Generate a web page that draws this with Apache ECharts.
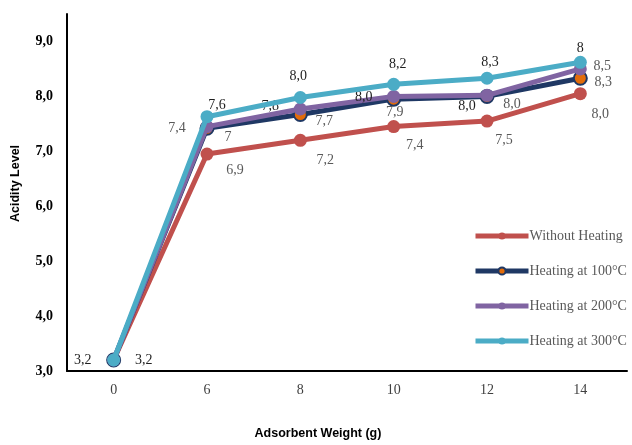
<!DOCTYPE html>
<html>
<head>
<meta charset="utf-8">
<script src="https://cdn.jsdelivr.net/npm/echarts@6/dist/echarts.min.js"></script>
<style>
  html, body { margin: 0; padding: 0; background: #fff; }
  #myChart { width: 632px; height: 445px; }
</style>
</head>
<body>
<div id="myChart"></div>
<script>
// x categories (adsorbent weight, g)
let categories = ['0', '6', '8', '10', '12', '14']

let seriesNames = ['Without Heating', 'Heating at 100°C', 'Heating at 200°C', 'Heating at 300°C']

// values
let withoutHeating = [3.2, 6.95, 7.2, 7.45, 7.55, 8.05]
let heating100 = [3.2, 7.42, 7.67, 7.95, 8.0, 8.33]
let heating200 = [3.2, 7.45, 7.77, 8.0, 8.02, 8.5]
let heating300 = [3.2, 7.63, 7.98, 8.22, 8.33, 8.62]

// labels as printed on the chart
let withoutHeatingLabels = ['', '6,9', '7,2', '7,4', '7,5', '8,0']
let heating100Labels = ['3,2', '7,4', '7,7', '7,9', '8,0', '8,3']
let heating200Labels = ['', '7', '7,8', '8,0', '8,0', '8,5']
let heating300Labels = ['3,2', '7,6', '8,0', '8,2', '8,3', '8']

let yTicks = ['3,0', '4,0', '5,0', '6,0', '7,0', '8,0', '9,0']

let serif = '"Liberation Serif", "Times New Roman", serif'
let dark = '#1e1e1e'
let grey = '#595959'

// label offsets per point (relative to the marker centre)
let labelOffsets = [
    [[0, 0], [28, 16], [25, 20], [21, 19], [17, 19], [20, 21]],
    [[-31, 0], [-30, 0], [24, 7], [1, 13], [-20, 10], [23, 4]],
    [[0, 0], [21, 11], [-30, -3], [-30, 1], [25, 9], [22, -3]],
    [[30, 0], [10, -11], [-2, -21], [4, -20], [3, -16], [0, -14]]
]
let labelColors = [
    [grey, grey, grey, grey, grey, grey],
    [dark, grey, grey, grey, dark, grey],
    [grey, grey, dark, dark, grey, grey],
    [dark, dark, dark, dark, dark, dark]
]

let values = [withoutHeating, heating100, heating200, heating300]
let labels = [withoutHeatingLabels, heating100Labels, heating200Labels, heating300Labels]
let lineColors = ['#c0504d', '#1f3864', '#8064a2', '#4bacc6']
let fillColors = ['#c0504d', '#e36c09', '#8064a2', '#4bacc6']

let series = values.map(function (vals, i) {
    return {
        name: seriesNames[i],
        type: 'line',
        symbol: 'circle',
        symbolSize: 13,
        z: 2 + i,
        lineStyle: { color: lineColors[i], width: 5 },
        itemStyle: {
            color: fillColors[i],
            borderColor: lineColors[i],
            borderWidth: i == 1 ? 2 : 0
        },
        data: vals.map(function (v, j) {
            return {
                value: v,
                label: {
                    show: labels[i][j] !== '',
                    position: 'inside',
                    offset: labelOffsets[i][j],
                    formatter: labels[i][j],
                    color: labelColors[i][j],
                    fontFamily: serif,
                    fontSize: 14
                }
            }
        })
    }
})

let option = {
    animation: false,
    backgroundColor: '#fff',
    grid: { left: 67, right: 5, top: 14, bottom: 69 },
    legend: {
        data: seriesNames,
        orient: 'vertical',
        left: 468,
        top: 224,
        itemWidth: 53,
        itemHeight: 9,
        itemGap: 21,
        lineStyle: { width: 5 },
        textStyle: { fontFamily: serif, fontSize: 14, color: grey, padding: [0, 0, 0, -4] }
    },
    xAxis: {
        type: 'category',
        data: categories,
        boundaryGap: true,
        name: 'Adsorbent Weight (g)',
        nameLocation: 'middle',
        nameGap: 56,
        nameTextStyle: {
            fontFamily: '"Liberation Sans", Arial, sans-serif',
            fontWeight: 'bold',
            fontSize: 12.5,
            color: '#000',
            padding: [0, 58, 0, 0]
        },
        axisLine: { lineStyle: { color: '#000', width: 2 } },
        axisTick: { show: false },
        axisLabel: { fontFamily: serif, fontSize: 14, color: '#404040', margin: 12 },
        splitLine: { show: false }
    },
    yAxis: {
        type: 'value',
        min: 3,
        max: 9.5,
        interval: 1,
        name: 'Acidity Level',
        nameLocation: 'middle',
        nameGap: 45,
        nameTextStyle: {
            fontFamily: '"Liberation Sans", Arial, sans-serif',
            fontWeight: 'bold',
            fontSize: 12.5,
            color: '#000',
            padding: [0, 0, 0, 18]
        },
        axisLine: { show: true, lineStyle: { color: '#000', width: 2 } },
        axisTick: { show: false },
        splitLine: { show: false },
        axisLabel: {
            fontFamily: serif,
            fontSize: 14,
            fontWeight: 'bold',
            color: '#000',
            margin: 14,
            showMaxLabel: false,
            formatter: function (v) {
                let idx = Math.round(v - 3)
                return yTicks[idx] !== undefined && Math.abs(v - Math.round(v)) < 1e-6 ? yTicks[idx] : ''
            }
        }
    },
    series: series
}

let myChart = echarts.init(document.getElementById('myChart'))
myChart.setOption(option, true)
</script>
</body>
</html>
